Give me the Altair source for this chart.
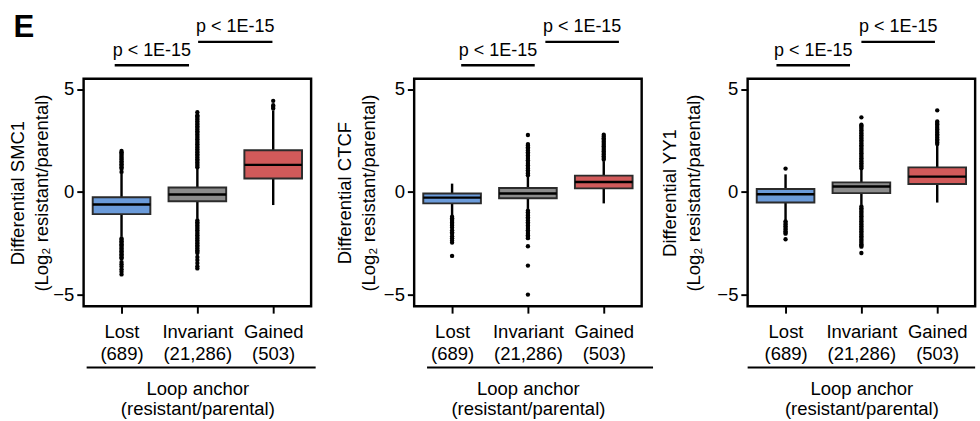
import altair as alt
import pandas as pd

# ---------------- data ----------------
CATEGORIES = ["Lost", "Invariant", "Gained"]
COUNTS = ["(689)", "(21,286)", "(503)"]
POSITIONS = [1, 2, 3]
COLORS = ["#6b9bda", "#8c8c8c", "#d15a5a"]
PROTEINS = ["SMC1", "CTCF", "YY1"]

LOWER = {"SMC1": [-2.17, -1.30, -0.63], "CTCF": [-1.13, -0.82, -0.55], "YY1": [-1.36, -0.62, -0.51]}
Q1 = {"SMC1": [-1.07, -0.45, 0.66], "CTCF": [-0.55, -0.30, 0.18], "YY1": [-0.51, -0.05, 0.39]}
MEDIAN = {"SMC1": [-0.60, -0.12, 1.32], "CTCF": [-0.27, -0.07, 0.49], "YY1": [-0.11, 0.27, 0.75]}
Q3 = {"SMC1": [-0.25, 0.22, 2.03], "CTCF": [-0.07, 0.20, 0.80], "YY1": [0.15, 0.47, 1.20]}
UPPER = {"SMC1": [0.90, 1.13, 3.96], "CTCF": [0.41, 0.75, 1.50], "YY1": [0.86, 1.09, 2.26]}

SMC1_LOST_OUT = [0.98, 1.13, 1.2, 1.28, 1.35, 1.42, 1.5, 1.58, 1.65, 1.72, 1.8, 1.86, 1.93, 2.0,
                 -2.25, -2.32, -2.39, -2.46, -2.53, -2.6, -2.67, -2.74, -2.81, -2.88, -2.95, -3.02,
                 -3.09, -3.16, -3.23, -3.4, -3.5, -3.62, -3.75, -3.87, -4.0]
SMC1_INV_OUT = [1.2, 1.28, 1.36, 1.44, 1.52, 1.6, 1.68, 1.76, 1.84, 1.92, 2.0, 2.08, 2.16, 2.24,
                2.32, 2.4, 2.48, 2.56, 2.64, 2.72, 2.8, 2.88, 2.96, 3.04, 3.12, 3.2, 3.28, 3.36,
                3.44, 3.52, 3.6, 3.67, 3.73, 3.88,
                -1.38, -1.46, -1.54, -1.62, -1.7, -1.78, -1.86, -1.94, -2.02, -2.1, -2.18, -2.26,
                -2.34, -2.42, -2.5, -2.58, -2.66, -2.74, -2.82, -2.9, -2.96, -3.15, -3.3, -3.45,
                -3.6, -3.71]
SMC1_GAIN_OUT = [4.06, 4.14, 4.22, 4.43]

CTCF_LOST_OUT = [-1.2, -1.27, -1.34, -1.41, -1.48, -1.55, -1.62, -1.72, -1.85, -1.95, -2.03,
                 -2.14, -2.24, -2.35, -2.45, -3.1]
CTCF_INV_OUT = [0.82, 0.9, 0.98, 1.06, 1.14, 1.22, 1.3, 1.38, 1.46, 1.54, 1.62, 1.7, 1.78, 1.86,
                1.94, 2.02, 2.1, 2.18, 2.26, 2.33, 2.77,
                -0.9, -0.98, -1.06, -1.14, -1.22, -1.3, -1.38, -1.46, -1.54, -1.62, -1.7, -1.78,
                -1.86, -1.94, -2.02, -2.1, -2.17, -2.24, -2.63, -3.57, -4.98]
CTCF_GAIN_OUT = [1.58, 1.66, 1.74, 1.82, 1.9, 1.98, 2.06, 2.14, 2.22, 2.3, 2.38, 2.46, 2.54,
                 2.62, 2.7, 2.79]

YY1_LOST_OUT = [1.14, -1.42, -1.5, -1.58, -1.66, -1.74, -1.82, -1.9, -1.97, -2.02, -2.29]
YY1_INV_OUT = [1.16, 1.24, 1.32, 1.4, 1.48, 1.56, 1.64, 1.72, 1.8, 1.88, 1.96, 2.04, 2.12, 2.2,
               2.28, 2.36, 2.44, 2.52, 2.6, 2.68, 2.76, 2.84, 2.92, 3.0, 3.08, 3.16, 3.22, 3.27,
               3.63,
               -0.7, -0.78, -0.86, -0.94, -1.02, -1.1, -1.18, -1.26, -1.34, -1.42, -1.5, -1.58,
               -1.66, -1.74, -1.82, -1.9, -1.98, -2.06, -2.14, -2.22, -2.3, -2.38, -2.46, -2.54,
               -2.6, -2.65, -2.96]
YY1_GAIN_OUT = [2.33, 2.41, 2.49, 2.57, 2.65, 2.73, 2.81, 2.89, 2.97, 3.05, 3.13, 3.21, 3.29,
                3.36, 3.43, 3.97]

OUTLIERS = {
    "SMC1": [SMC1_LOST_OUT, SMC1_INV_OUT, SMC1_GAIN_OUT],
    "CTCF": [CTCF_LOST_OUT, CTCF_INV_OUT, CTCF_GAIN_OUT],
    "YY1": [YY1_LOST_OUT, YY1_INV_OUT, YY1_GAIN_OUT],
}

P_LABELS = ["p < 1E-15", "p < 1E-15"]
BRACKET_START = {"SMC1": [0.91, 2.01], "CTCF": [1.12, 2.23], "YY1": [0.88, 2.00]}
BRACKET_END = {"SMC1": [1.89, 2.99], "CTCF": [2.09, 3.20], "YY1": [1.85, 2.97]}
UNDERLINE = {"SMC1": [0.54, 3.56], "CTCF": [0.67, 3.65], "YY1": [0.50, 3.50]}

Y_TICKS = [-5, 0, 5]
Y_DOMAIN = [-5.55, 5.5]
X_DOMAIN = [0.5, 3.5]

FONT = "Liberation Sans"
W = 234
H = 234
BRACKET_Y = [-14, -38]
Y_TITLE_PAD = {"SMC1": 1, "CTCF": 5, "YY1": 14}

label_expr = " : ".join(
    f"datum.value == {p} ? ['{c}', '{n}']" for p, c, n in zip(POSITIONS[:-1], CATEGORIES[:-1], COUNTS[:-1])
) + f" : ['{CATEGORIES[-1]}', '{COUNTS[-1]}']"


def panel(protein, first):
    xs = alt.Scale(domain=X_DOMAIN, nice=False, zero=False)
    ys = alt.Scale(domain=Y_DOMAIN, nice=False, zero=False)
    stats = pd.DataFrame({
        "cat": CATEGORIES, "pos": POSITIONS,
        "lower": LOWER[protein], "q1": Q1[protein], "median": MEDIAN[protein],
        "q3": Q3[protein], "upper": UPPER[protein],
    })
    rows = []
    for c, p, vals in zip(CATEGORIES, POSITIONS, OUTLIERS[protein]):
        for v in vals:
            rows.append({"cat": c, "pos": p, "value": v})
    out = pd.DataFrame(rows)
    ul = pd.DataFrame({"x1": [UNDERLINE[protein][0]], "x2": [UNDERLINE[protein][1]]})

    xaxis = alt.Axis(values=POSITIONS, labelExpr=label_expr, title=["Loop anchor", "(resistant/parental)"],
                     labelLineHeight=23, labelPadding=10, titlePadding=17, titleLineHeight=20)
    yaxis = alt.Axis(values=Y_TICKS, title=["Differential " + protein, "(Log\u2082 resistant/parental)"],
                     titleLineHeight=25, titlePadding=Y_TITLE_PAD[protein])

    def X(f):
        return alt.X(f, scale=xs, axis=xaxis)

    def Y(f):
        return alt.Y(f, scale=ys, axis=yaxis)

    whisk = alt.Chart(stats).mark_rule(color="black", strokeWidth=2.5).encode(
        x=X("pos:Q"), y=Y("lower:Q"), y2="upper:Q",
    )
    box = alt.Chart(stats).transform_calculate(
        left="datum.pos - 0.38", right="datum.pos + 0.38"
    ).mark_rect(stroke="#2b2b2b", strokeWidth=2, opacity=1).encode(
        x=X("left:Q"), x2="right:Q", y=Y("q1:Q"), y2="q3:Q",
        color=alt.Color("cat:N", scale=alt.Scale(domain=CATEGORIES, range=COLORS), legend=None),
    )
    med = alt.Chart(stats).transform_calculate(
        left="datum.pos - 0.38", right="datum.pos + 0.38"
    ).mark_rule(color="black", strokeWidth=2.5).encode(
        x=X("left:Q"), x2="right:Q", y=Y("median:Q"),
    )
    pts = alt.Chart(out).mark_circle(color="black", size=20, opacity=1).encode(
        x=X("pos:Q"), y=Y("value:Q"),
    )
    layers = [whisk, box, med, pts]
    for i in range(2):
        bdf = pd.DataFrame({
            "label": [P_LABELS[i]],
            "x1": [BRACKET_START[protein][i]],
            "x2": [BRACKET_END[protein][i]],
        })
        layers.append(alt.Chart(bdf).mark_rule(color="black", strokeWidth=2.5).encode(
            x=X("x1:Q"), x2="x2:Q", y=alt.value(BRACKET_Y[i]),
        ))
        layers.append(alt.Chart(bdf).transform_calculate(mid="(datum.x1 + datum.x2) / 2").mark_text(
            font=FONT, fontSize=18.5, color="black", baseline="alphabetic", align="center"
        ).encode(
            x=X("mid:Q"), y=alt.value(BRACKET_Y[i] - 10), text="label:N",
        ))
    under = alt.Chart(ul).mark_rule(color="black", strokeWidth=2).encode(
        x=X("x1:Q"), x2="x2:Q", y=alt.value(H + 63),
    )
    layers.append(under)
    if first:
        letter = alt.Chart(pd.DataFrame({"t": ["E"]})).mark_text(
            font=FONT, fontSize=32, fontWeight="bold", color="black", baseline="alphabetic", align="left"
        ).encode(x=alt.value(-72), y=alt.value(-43), text="t:N")
        layers.append(letter)
    return alt.layer(*layers).properties(width=W, height=H)


panels = [panel(p, i == 0) for i, p in enumerate(PROTEINS)]
chart = alt.hconcat(
    alt.hconcat(panels[0], panels[1], spacing=17), panels[2], spacing=4
).properties(
    padding={"left": 8, "top": 4, "right": 2, "bottom": 0}
).configure_axis(
    labelFont=FONT, titleFont=FONT, labelFontSize=19, titleFontSize=19,
    titleFontWeight="normal", labelColor="black", titleColor="black",
    tickColor="black", tickWidth=2, tickSize=7, labelPadding=3,
    domain=False, grid=False,
).configure_view(
    stroke="black", strokeWidth=2.5
).configure_text(font=FONT)

chart.save("out.html", embed_options={"renderer": "svg", "actions": False})
